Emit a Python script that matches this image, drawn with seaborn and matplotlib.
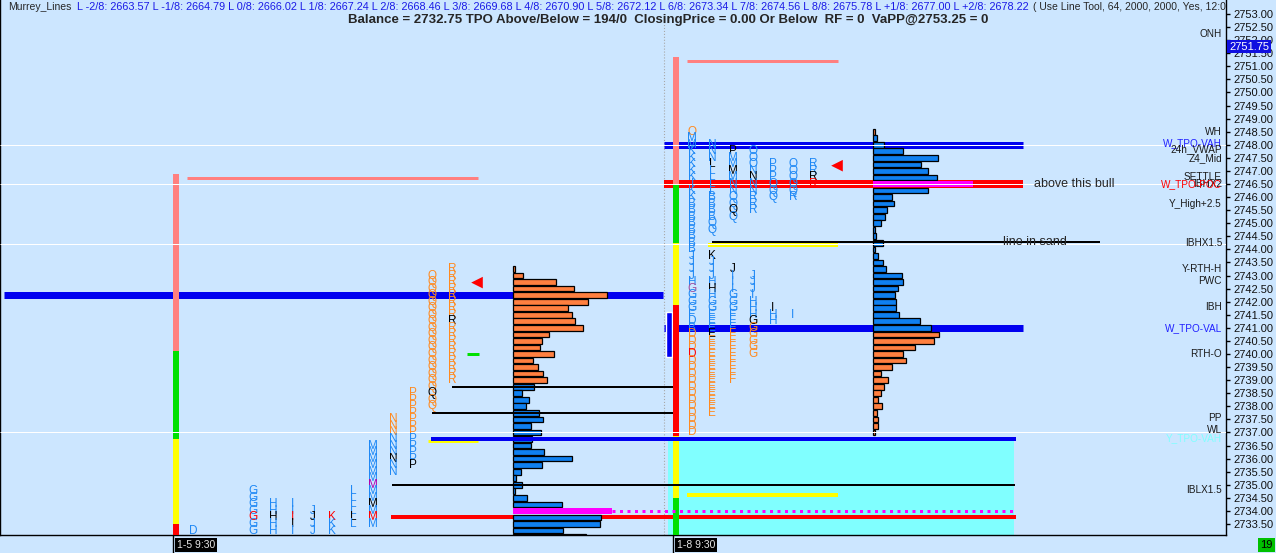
import numpy as np
import matplotlib
matplotlib.use("Agg")
import matplotlib.pyplot as plt
import seaborn as sns

# ---- price scale ----
PPP = 26.154                      # pixels per point
Y_TOP = 2753.0 + 14 / PPP
Y_BOT = 2753.0 - 521 / PPP

def py(ypx):
    return Y_TOP - ypx / PPP

# ---- header ----
murrey_names = ["L -2/8", "L -1/8", "L 0/8", "L 1/8", "L 2/8", "L 3/8", "L 4/8",
                "L 5/8", "L 6/8", "L 7/8", "L 8/8", "L +1/8", "L +2/8"]
murrey_vals = [2663.57, 2664.79, 2666.02, 2667.24, 2668.46, 2669.68, 2670.90,
               2672.12, 2673.34, 2674.56, 2675.78, 2677.00, 2678.22]
title = ("Balance = 2732.75 TPO Above/Below = 194/0  ClosingPrice = 0.00 Or Below  "
         "RF = 0  VaPP@2753.25 = 0")

# ---- volume profiles (0.25 rows, top -> bottom) ----
left_top = 2743.25
left_prof = [2, 10, 43, 61, 94, 75, 55, 59, 62, 70, 36, 29, 27, 41, 20, 25, 30, 34,
             21, 9, 16, 13, 26, 30, 18, 28, 19, 18, 31, 59, 29, 8, 3, 9, 2, 14, 49, 99,
             88, 87, 50, 73]
left_kind = "o" * 18 + "b" * 19 + "m" + "b" * 4

right_top = 2748.5
right_prof = [2, 4, 11, 30, 65, 48, 55, 64, 100, 55, 19, 21, 14, 12, 8, 2, 3, 10, 2, 5,
              10, 13, 29, 30, 25, 22, 23, 23, 26, 47, 58,
              66, 61, 42, 30, 33, 19, 8, 15, 11, 8, 5, 9, 4, 5, 5, 2]
right_kind = "o" + "b" * 7 + "m" + "b" * 22 + "o" * 16

# ---- TPO letter columns ----
tpo_x = [193, 253, 273, 293, 313, 332, 353, 373, 393, 413, 432, 452,
         692, 712, 712, 733, 733, 753, 753, 773, 773, 793, 793, 813]
tpo_top = [2733.25, 2734.75, 2734.25, 2734.25, 2734.0, 2733.75, 2734.75, 2736.5,
           2737.5, 2738.5, 2743.0, 2743.25,
           2748.5, 2748.0, 2743.75, 2747.75, 2743.25, 2747.75, 2743.0, 2747.25,
           2741.75, 2747.25, 2741.5, 2747.25]
tpo_letters = ["D", "GGGGGGG", "HHHHH", "IIIII", "JJJJ", "KKK", "LLLLLL", "M" * 13,
               "N" * 9, "P" * 12, "Q" * 21, "R" * 18,
               "O" + "MMKKKKKIKKBBBBBBBBJJJJHGGGGFDB" + "D" * 16,
               "NNNLLLLLBBBBQQ",
               "K" + "JJJHHHGGEEE" + "E" * 13,
               "PMMMMNNQQQQ",
               "J" + "IIIGGGFF" + "F" + "F" * 8,
               "OOONNNNRRR",
               "JJJIHHH" + "G" + "GGGGG",
               "PPPQQQ", "IHH", "OOQQQR", "I", "RRRR"]
tpo_colors = ["b", "bbbbrbb", "bbkbb", "bbrkb", "bkbb", "rbb", "bbbbkb",
              "bbbbbbmbbkbrb", "ooobbbkbb", "ooooooobbbbk",
              "o" * 18 + "k" + "oo", "o" * 8 + "k" + "o" * 9,
              "o" + "b" * 23 + "p" + "b" * 6 + "ooo" + "r" + "o" * 12,
              "bbbkbbbbbbbbbb",
              "k" + "bbbbkbbbbbb" + "k" + "o" * 12,
              "kbbkbbbbbkb",
              "k" + "b" * 9 + "o" * 8,
              "bbbbkbbbbb",
              "bbbbbbb" + "k" + "ooooo",
              "bbbbbb", "kbb", "bbbbbb", "b", "bbkr"]

# ---- reference levels on the right scale ----
level_names = ["ONH", "WH", "W_TPO-VAH", "24h_VWAP", "Z4_Mid", "SETTLE", "IBHX2",
               "W_TPO-POC", "Y_High+2.5", "IBHX1.5", "Y-RTH-H", "PWC", "IBH",
               "W_TPO-VAL", "RTH-O", "PP", "WL", "Y_TPO-VAH", "IBLX1.5"]
level_prices = [2752.25, 2748.5, 2748.05, 2747.85, 2747.5, 2746.75, 2746.5,
                2746.5, 2745.75, 2744.25, 2743.25, 2742.8, 2741.8,
                2741.0, 2740.0, 2737.55, 2737.1, 2736.8, 2734.8]
level_colors = ["k", "k", "#2020ff", "k", "k", "k", "k", "red", "k", "k", "k", "k",
                "k", "#2020ff", "k", "k", "k", "#80ffff", "k"]
white_levels = [2748.0, 2746.5, 2744.22, 2737.0]

# session bar colour bands
left_band = [2746.875, 2740.125, 2736.75, 2733.5, Y_BOT]
left_band_c = ["#ff8080", "#00e000", "#ffff00", "#ff0000"]
right_band = [2751.375, 2746.5, 2744.25, 2741.875, 2736.875, 2734.5, Y_BOT]
right_band_c = ["#ff8080", "#00e000", "#ffff00", "#ff0000", "#ffff00", "#00e000"]

BG = "#cce6ff"
CMAP = {"b": "#1e88f5", "o": "#ff8a20", "k": "black", "r": "red",
        "m": "#b000b0", "p": "#a050a0"}
BARC = {"b": "#0f80f0", "o": "#ff8040", "m": "#ff00ff"}

sns.set_theme(style="white")
plt.rcParams["font.family"] = ["Liberation Sans", "DejaVu Sans"]

fig = plt.figure(figsize=(12.76, 5.53), dpi=100)
fig.patch.set_facecolor(BG)
ax = fig.add_axes([0, 18 / 553, 1226 / 1276, 535 / 553])
ax.set_facecolor(BG)
ax.set_xlim(0, 1226)
ax.set_ylim(Y_BOT, Y_TOP)

def px(n):
    return n * 0.72

def hline(p, x0, x1, c, w, z=2, ls="-"):
    ax.plot([x0, x1], [p, p], color=c, lw=px(w), zorder=z, ls=ls,
            solid_capstyle="butt", dash_capstyle="butt")

# value area fill
ax.fill_between([668, 1014], Y_BOT, 2736.75, color="#80ffff", zorder=1, lw=0)
ax.plot([664, 664], [Y_BOT, py(14)], color="#a8a8a8", lw=0.8, ls=":", zorder=1)

# thick levels
hline(2742.25, 4, 663, "#0000f0", 7)
hline(2748.0, 664, 1023, "#0000f0", 7)
hline(2741.0, 664, 1023, "#0000f0", 7)
hline(2746.5, 664, 1023, "#ff0000", 8)
hline(2733.75, 391, 1016, "#ff0000", 4)
hline(2746.73, 187, 478, "#ff8080", 3)
hline(2751.22, 687, 838, "#ff8080", 3)
hline(2744.15, 708, 838, "#ffff00", 4, z=4)
hline(2734.6, 687, 838, "#ffff00", 4, z=4)
hline(2736.67, 428, 478, "#ffff00", 3, z=4)
hline(2740.0, 467, 479, "#00e000", 3)
hline(2734.0, 612, 1013, "#ff00ff", 3, z=4, ls=(0, (1, 1.5)))
hline(2736.75, 431, 1016, "#0000f0", 4, z=4)
for p, x0, x1 in [(2738.75, 452, 673), (2737.75, 432, 673), (2735.0, 392, 1015),
                  (2744.3, 712, 1100)]:
    hline(p, x0, x1, "black", 2, z=4)
ax.bar(669, 1.7, bottom=2739.9, width=6, color="#0000f0", zorder=2)

# session colour bars
for edges, cols, xc in [(left_band, left_band_c, 176), (right_band, right_band_c, 676)]:
    for i, c in enumerate(cols):
        ax.bar(xc, edges[i] - edges[i + 1], bottom=edges[i + 1], width=6,
               color=c, zorder=3, lw=0)

# volume profiles
for top, prof, kind, base in [(left_top, left_prof, left_kind, 513),
                              (right_top, right_prof, right_kind, 873)]:
    rows = top - 0.25 * np.arange(len(prof))
    for r, w, k in zip(rows, prof, kind):
        ax.barh(r, w, left=base, height=0.22, color=BARC[k],
                edgecolor="none" if k == "m" else "black", lw=0.9, zorder=3)

for p in white_levels:
    hline(p, 0, 1226, "white", 1, z=5)

# TPO letters
for x, top, letters, cols in zip(tpo_x, tpo_top, tpo_letters, tpo_colors):
    for i, (ch, c) in enumerate(zip(letters, cols)):
        ax.text(x, top - 0.25 * i, ch, color=CMAP[c], fontsize=8.5, ha="center",
                va="center", zorder=6)

# red markers
sns.scatterplot(x=[477, 837], y=[2742.73, 2747.2], marker="<", s=70, color="red",
                edgecolor="none", ax=ax, zorder=6, legend=False)

ax.text(1034, 2746.5, "above this bull", fontsize=9, va="center", zorder=7)
ax.text(1003, 2744.3, "line in sand", fontsize=9, va="center", zorder=7)

for n, p, c in zip(level_names, level_prices, level_colors):
    ax.text(1222, p, n, color=c, fontsize=7.2, ha="right", va="center", zorder=7)

# header
ax.text(8, py(6.5), "Murrey_Lines", fontsize=7.5, va="center", zorder=8)
murrey_str = " ".join(f"{n}: {v:.2f}" for n, v in zip(murrey_names, murrey_vals))
ax.text(77, py(6.5), murrey_str, color="#1a1ae6", fontsize=7.8, va="center", zorder=8)
ax.text(1033, py(6.5), "( Use Line Tool, 64, 2000, 2000, Yes, 12:00:00", fontsize=7.5,
        va="center", zorder=8, clip_on=True)
ax.text(668, py(19.5), title, fontsize=9.5, fontweight="bold", ha="center",
        va="center", zorder=8)

# right price axis
ax.yaxis.tick_right()
ticks = np.arange(2733.5, 2753.01, 0.5)
ax.set_yticks(ticks)
ax.set_yticklabels([f"{t:.2f}" for t in ticks], fontsize=8, color="#111111")
ax.tick_params(axis="y", direction="out", length=3, width=1, pad=2, color="black")
ax.set_xticks([])
ax.spines["top"].set_visible(False)
for s in ["left", "right", "bottom"]:
    ax.spines[s].set_color("black")
    ax.spines[s].set_linewidth(1)
ax.text(1229, 2751.75, "2751.75", fontsize=8, color="white", va="center",
        zorder=9, clip_on=False,
        bbox=dict(boxstyle="square,pad=0.15", fc="#1010e0", ec="none"))

# time labels
for xl, lab in [(173, "1-5 9:30"), (673, "1-8 9:30")]:
    fig.add_artist(plt.Line2D([xl / 1276, xl / 1276], [0, 18 / 553], color="black",
                              lw=1))
    fig.text((xl + 4) / 1276, 8 / 553, lab, fontsize=7.5, color="#e8e8e8",
             va="center", bbox=dict(boxstyle="square,pad=0.2", fc="black", ec="none"))
fig.text(1260 / 1276, 8 / 553, "19", fontsize=8, color="black", va="center",
         bbox=dict(boxstyle="square,pad=0.2", fc="#00c000", ec="none"))

fig.savefig("out.png", dpi=100, facecolor=BG)
